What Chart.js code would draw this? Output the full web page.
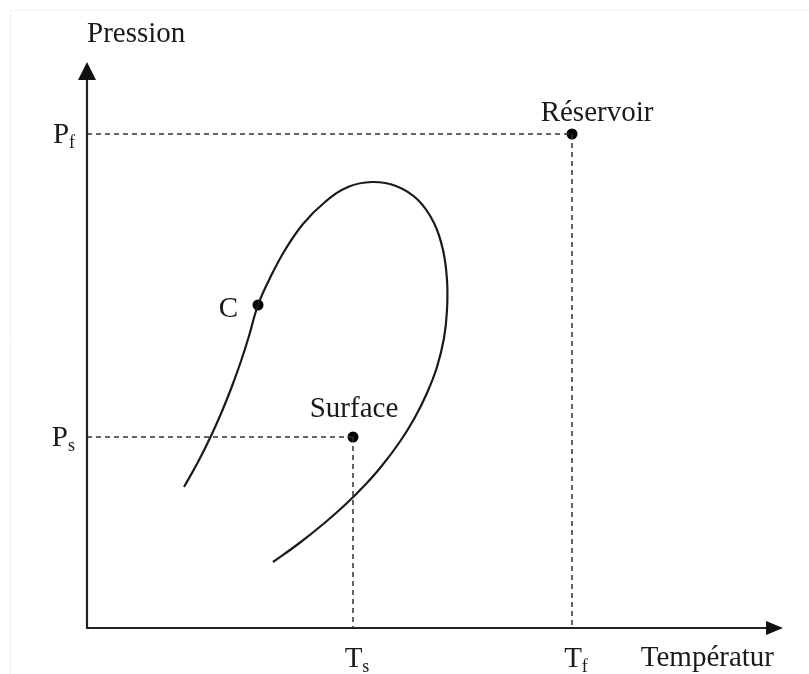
<!DOCTYPE html>
<html>
<head>
<meta charset="utf-8">
<script src="https://cdn.jsdelivr.net/npm/chart.js@4"></script>
<style>
  html, body { margin: 0; padding: 0; background: #fff; }
  #wrap { width: 809px; height: 674px; position: relative; }
</style>
</head>
<body>
<div id="wrap"><canvas id="diagram" width="809" height="674"></canvas></div>
<script>
// diagramme de phase P-T

// enveloppe (température, pression) en unités arbitraires
const curveT = [97,111,123.5,134.7,144.7,153.7,161.7,171,183,198,216,238,261,285,309,331,347,356,360,360,357,350,340,327.6,312.7,294.7,278,260,238.7,212.5,186]
const curveP = [141,166,191,216,241,266,291,323,350,378,404,426,441,446,442,428,405,378,348,318,290,261,235,210,186,162,143,125,106,85,66]

// points remarquables
const pointNames = ['Surface','Réservoir','C']
const pointT = [266,485,171]
const pointP = [191,494,323]

// graduations
const pTicks = [['P','f'],['P','s']]
const pTickVals = [494,191]
const tTicks = [['T','s'],['T','f']]
const tTickVals = [266,485]

const serif = '"Liberation Serif", "DejaVu Serif", serif'

function dash(x1,y1,x2,y2) {
  return {
    data: [{x:x1,y:y1},{x:x2,y:y2}],
    showLine: true,
    borderColor: '#333',
    borderWidth: 1.5,
    borderDash: [5,4],
    pointRadius: 0
  }
}

function sub(ctx, main, s, x, y, align) {
  ctx.font = '29px ' + serif
  const w1 = ctx.measureText(main).width
  ctx.font = '18px ' + serif
  const w2 = ctx.measureText(s).width
  let left = x
  if (align == 'right') left = x - w1 - w2
  if (align == 'center') left = x - (w1 + w2) / 2
  ctx.textAlign = 'left'
  ctx.font = '29px ' + serif
  ctx.fillText(main, left, y)
  ctx.font = '18px ' + serif
  ctx.fillText(s, left + w1, y + 5)
}

const decor = {
  id: 'decor',
  afterDraw(chart) {
    const ctx = chart.ctx
    const a = chart.chartArea
    const xs = chart.scales.x, ys = chart.scales.y
    ctx.save()
    // cadre très pâle
    ctx.strokeStyle = '#f0f0f0'
    ctx.lineWidth = 1
    ctx.beginPath()
    ctx.moveTo(10.5, 674); ctx.lineTo(10.5, 10.5); ctx.lineTo(809, 10.5)
    ctx.stroke()

    // axes
    ctx.strokeStyle = '#222'
    ctx.fillStyle = '#111'
    ctx.lineWidth = 2.2
    ctx.beginPath()
    ctx.moveTo(a.left, a.bottom); ctx.lineTo(a.left, a.top + 12)
    ctx.moveTo(a.left - 1, a.bottom); ctx.lineTo(a.right - 12, a.bottom)
    ctx.stroke()
    ctx.beginPath()
    ctx.moveTo(a.left, a.top); ctx.lineTo(a.left - 9, a.top + 18); ctx.lineTo(a.left + 9, a.top + 18)
    ctx.closePath(); ctx.fill()
    ctx.beginPath()
    ctx.moveTo(a.right, a.bottom); ctx.lineTo(a.right - 17, a.bottom - 7); ctx.lineTo(a.right - 17, a.bottom + 7)
    ctx.closePath(); ctx.fill()

    ctx.fillStyle = '#1a1a1a'
    ctx.textBaseline = 'alphabetic'
    ctx.font = '29px ' + serif
    ctx.textAlign = 'left'
    ctx.fillText('Pression', a.left, 42)
    ctx.textAlign = 'right'
    ctx.fillText('Températur', a.right - 9, 666)

    pTicks.forEach((t, i) => sub(ctx, t[0], t[1], a.left - 12, ys.getPixelForValue(pTickVals[i]) + 9, 'right'))
    tTicks.forEach((t, i) => sub(ctx, t[0], t[1], xs.getPixelForValue(tTickVals[i]) + 4, 667, 'center'))

    // étiquettes des points
    ctx.font = '29px ' + serif
    pointNames.forEach((n, i) => {
      const px = xs.getPixelForValue(pointT[i]), py = ys.getPixelForValue(pointP[i])
      if (n == 'C') {
        ctx.textAlign = 'right'
        ctx.fillText(n, px - 20, py + 12)
      } else if (n == 'Surface') {
        ctx.textAlign = 'center'
        ctx.fillText(n, px + 1, py - 20)
      } else {
        ctx.textAlign = 'center'
        ctx.fillText(n, px + 25, py - 13)
      }
    })
    ctx.restore()
  }
}

new Chart(document.getElementById('diagram'), {
  type: 'scatter',
  data: {
    datasets: [
      dash(0, pTickVals[0], pointT[1], pointP[1]),
      dash(pointT[1], pointP[1], tTickVals[1], 0),
      dash(0, pTickVals[1], pointT[0], pointP[0]),
      dash(pointT[0], pointP[0], tTickVals[0], 0),
      {
        data: curveT.map((t, i) => ({x: t, y: curveP[i]})),
        showLine: true,
        borderColor: '#1a1a1a',
        borderWidth: 2.2,
        tension: 0.4,
        pointRadius: 0
      },
      {
        data: pointT.map((t, i) => ({x: t, y: pointP[i]})),
        pointRadius: 5.5,
        pointBackgroundColor: '#000',
        pointBorderWidth: 0
      }
    ]
  },
  options: {
    responsive: false,
    animation: false,
    layout: { padding: { left: 87, right: 26, top: 62, bottom: 46 } },
    plugins: { legend: { display: false }, tooltip: { enabled: false } },
    scales: {
      x: { type: 'linear', min: 0, max: 696, display: false },
      y: { type: 'linear', min: 0, max: 566, display: false }
    }
  },
  plugins: [decor]
})
</script>
</body>
</html>
